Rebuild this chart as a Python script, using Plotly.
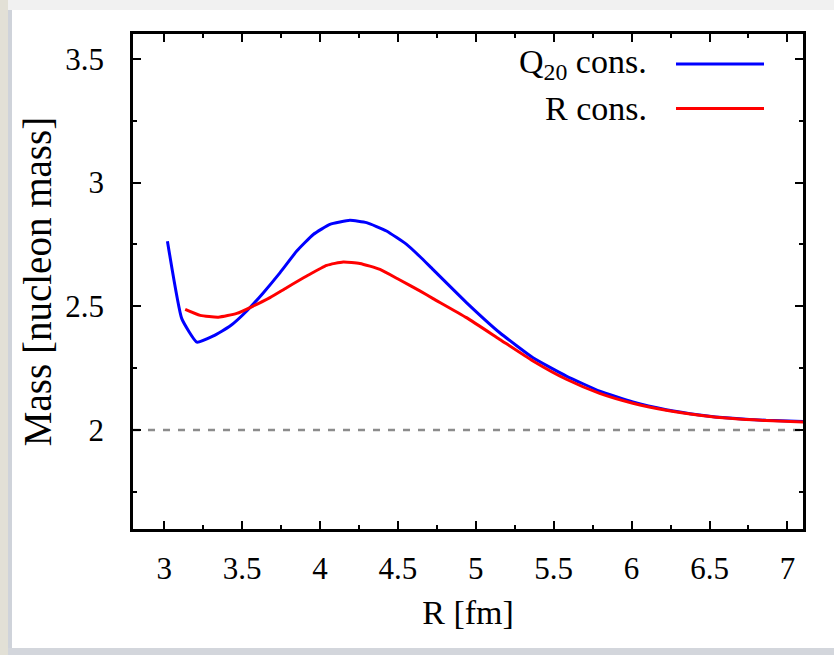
import plotly.graph_objects as go

# Q20-constrained mass curve
q20_r = [3.021, 3.113, 3.21, 3.316, 3.423, 3.53, 3.637, 3.744, 3.851, 3.957,
         4.064, 4.192, 4.299, 4.427, 4.556, 4.641, 4.726, 4.94, 5.154, 5.367,
         5.581, 5.795, 6.008, 6.222, 6.436, 6.649, 6.863, 7.1]
q20_m = [2.763, 2.450, 2.355, 2.380, 2.420, 2.481, 2.555, 2.636, 2.723, 2.790,
         2.831, 2.847, 2.838, 2.804, 2.750, 2.701, 2.648, 2.515, 2.393, 2.292,
         2.218, 2.157, 2.113, 2.082, 2.061, 2.047, 2.039, 2.034]

# R-constrained mass curve
rc_r = [3.135, 3.231, 3.348, 3.466, 3.572, 3.679, 3.786, 3.915, 4.043, 4.149,
        4.256, 4.385, 4.513, 4.641, 4.726, 4.94, 5.154, 5.367, 5.581, 5.795,
        6.008, 6.222, 6.436, 6.649, 6.863, 7.1]
rc_m = [2.487, 2.463, 2.456, 2.471, 2.501, 2.535, 2.575, 2.622, 2.665, 2.679,
        2.673, 2.649, 2.606, 2.562, 2.531, 2.454, 2.366, 2.279, 2.205, 2.148,
        2.108, 2.080, 2.060, 2.046, 2.038, 2.032]

ref_mass = 2.0
x_ticks = [3, 3.5, 4, 4.5, 5, 5.5, 6, 6.5, 7]
y_ticks = [2, 2.5, 3, 3.5]
legend_labels = ["Q<sub>20</sub> cons.", "R cons."]
colors = ["#0000ff", "#ff0000"]

FONT = "Liberation Serif, Times New Roman, serif"

fig = go.Figure()
fig.add_trace(go.Scatter(x=q20_r, y=q20_m, mode="lines",
                         line=dict(color=colors[0], width=3, shape="spline", smoothing=0.4),
                         showlegend=False))
fig.add_trace(go.Scatter(x=rc_r, y=rc_m, mode="lines",
                         line=dict(color=colors[1], width=3, shape="spline", smoothing=0.5),
                         showlegend=False))

W, H = 834, 655
L, R, T, B = 133, 31, 34, 126
pw, ph = W - L - R, H - T - B


def px(p):
    return (p - L) / pw


def py(p):
    return (H - B - p) / ph


shapes = [
    # reference line at mass 2
    dict(type="line", xref="paper", yref="y", x0=0, x1=1, y0=ref_mass, y1=ref_mass,
         line=dict(color="#8c8c8c", width=2.5, dash="7px,8px"), layer="below"),
    # frame strips around the white panel
    dict(type="rect", xref="paper", yref="paper", x0=px(0), x1=px(W), y0=py(10), y1=py(0),
         fillcolor="#f1f1f1", line=dict(width=0)),
    dict(type="rect", xref="paper", yref="paper", x0=px(0), x1=px(8), y0=py(H), y1=py(0),
         fillcolor="#e2e0d6", line=dict(width=0)),
    dict(type="rect", xref="paper", yref="paper", x0=px(8), x1=px(12), y0=py(H), y1=py(10),
         fillcolor="#cfd3da", line=dict(width=0)),
    dict(type="rect", xref="paper", yref="paper", x0=px(8), x1=px(W), y0=py(H), y1=py(648),
         fillcolor="#d3d6dc", line=dict(width=0)),
]

legend_y = [py(64), py(108.5)]
annotations = []
for lab, c, ly in zip(legend_labels, colors, legend_y):
    shapes.append(dict(type="line", xref="paper", yref="paper", x0=px(676), x1=px(764),
                       y0=ly, y1=ly, line=dict(color=c, width=3)))
    annotations.append(dict(xref="paper", yref="paper", x=px(649), y=ly, text=lab,
                            xanchor="right", yanchor="middle", showarrow=False,
                            font=dict(family=FONT, size=34, color="black")))

axis_common = dict(showline=True, linecolor="black", linewidth=2.5, mirror="ticks",
                   ticks="inside", ticklen=8, tickwidth=2, tickcolor="black",
                   showgrid=False, zeroline=False,
                   tickfont=dict(family=FONT, size=31, color="black"),
                   minor=dict(ticks="inside", ticklen=4, tickwidth=2, tickcolor="black",
                              dtick=0.25, showgrid=False))

fig.update_layout(
    width=W, height=H,
    margin=dict(l=L, r=R, t=T, b=B),
    paper_bgcolor="white", plot_bgcolor="white",
    xaxis=dict(range=[2.8, 7.1], tickvals=x_ticks,
               ticktext=[f"{v:g}" for v in x_ticks], ticklabelstandoff=10,
               title=dict(text="R [fm]", font=dict(family=FONT, size=34, color="black"),
                          standoff=16),
               **axis_common),
    yaxis=dict(range=[1.6, 3.6], tickvals=y_ticks,
               ticktext=[f"{v:g}" for v in y_ticks], ticklabelstandoff=20,
               title=dict(text="Mass [nucleon mass]",
                          font=dict(family=FONT, size=39, color="black"), standoff=2),
               **axis_common),
    shapes=shapes,
    annotations=annotations,
    showlegend=False,
)

fig.write_html("out.html")
